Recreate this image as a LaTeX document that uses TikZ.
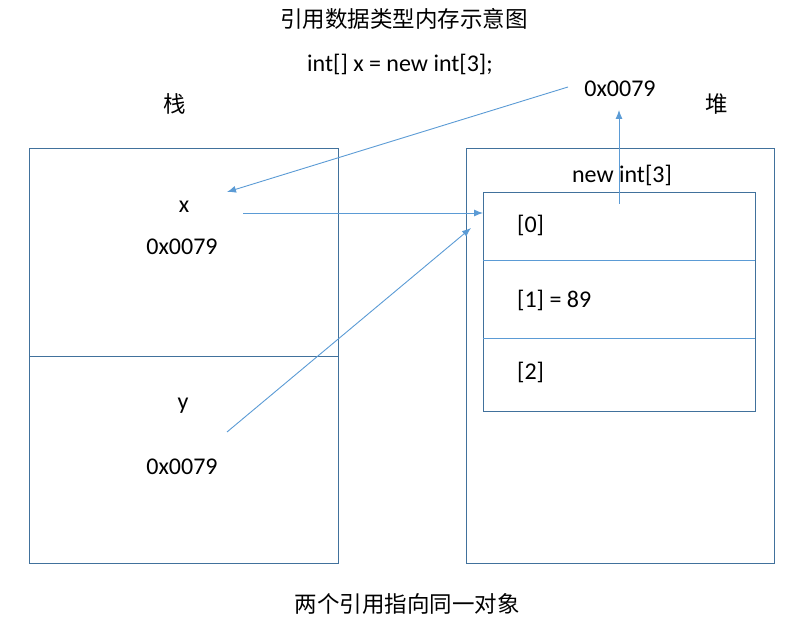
\documentclass[tikz,border=0pt]{standalone}
\usepackage{fontspec}
\setmainfont{Carlito}
\newfontfamily\cjk{Noto Sans CJK SC}
\usetikzlibrary{arrows.meta}
\definecolor{boxc}{HTML}{41719C}
\definecolor{arrc}{HTML}{5B9BD5}
\tikzset{
  lbl/.style={inner sep=0pt, font=\fontsize{24}{27}\selectfont},
  cjklbl/.style={inner sep=0pt, font=\fontsize{22.5}{26}\selectfont\cjk},
  outer/.style={draw=boxc, line width=1pt},
  cell/.style={draw=arrc, line width=1pt},
  ptr/.style={draw=arrc, line width=0.9pt, -{Latex[length=9pt,width=7pt]}}
}
\begin{document}
\begin{tikzpicture}[x=1pt,y=-1pt]
\useasboundingbox (0,0) rectangle (803,636);
% boxes
\draw[outer] (29,149) rectangle (338,563);
\draw[outer] (29,356) -- (338,356);
\draw[outer] (466,149) rectangle (774,563);
\draw[outer] (483,193) rectangle (755,411);
\draw[cell] (483,261) -- (755,261);
\draw[cell] (483,338) -- (755,338);
% texts
\node[cjklbl] (title) at (404,19) {引用数据类型内存示意图};
\node[lbl] (code) at (400,64) {int[] x = new int[3];};
\node[lbl] (addr) at (620,89) {0x0079};
\node[cjklbl] (stack) at (175,104) {栈};
\node[cjklbl] (heap) at (717,104) {堆};
\node[lbl] (arr) at (622,175) {new int[3]};
\node[lbl] (x) at (184,207) {x};
\node[lbl] (xv) at (182,247) {0x0079};
\node[lbl] (y) at (183,406) {y};
\node[lbl] (yv) at (182,467) {0x0079};
\node[lbl, anchor=west] (c0) at (517,225) {[0]};
\node[lbl, anchor=west] (c1) at (517,300) {[1] = 89};
\node[lbl, anchor=west] (c2) at (517,372) {[2]};
\node[cjklbl] (note) at (407,604) {两个引用指向同一对象};
% connector ends
\coordinate (a1s) at (568,87);
\coordinate (a1e) at (227,192);
\coordinate (a2s) at (243,213);
\coordinate (a2e) at (483,213);
\coordinate (a3s) at (227,432);
\coordinate (a3e) at (471,228);
\coordinate (a4s) at (619,204);
\coordinate (a4e) at (619,110);
\draw[ptr] (a1s) -- (a1e);
\draw[ptr] (a2s) -- (a2e);
\draw[ptr] (a3s) -- (a3e);
\draw[ptr] (a4s) -- (a4e);
\end{tikzpicture}
\end{document}
